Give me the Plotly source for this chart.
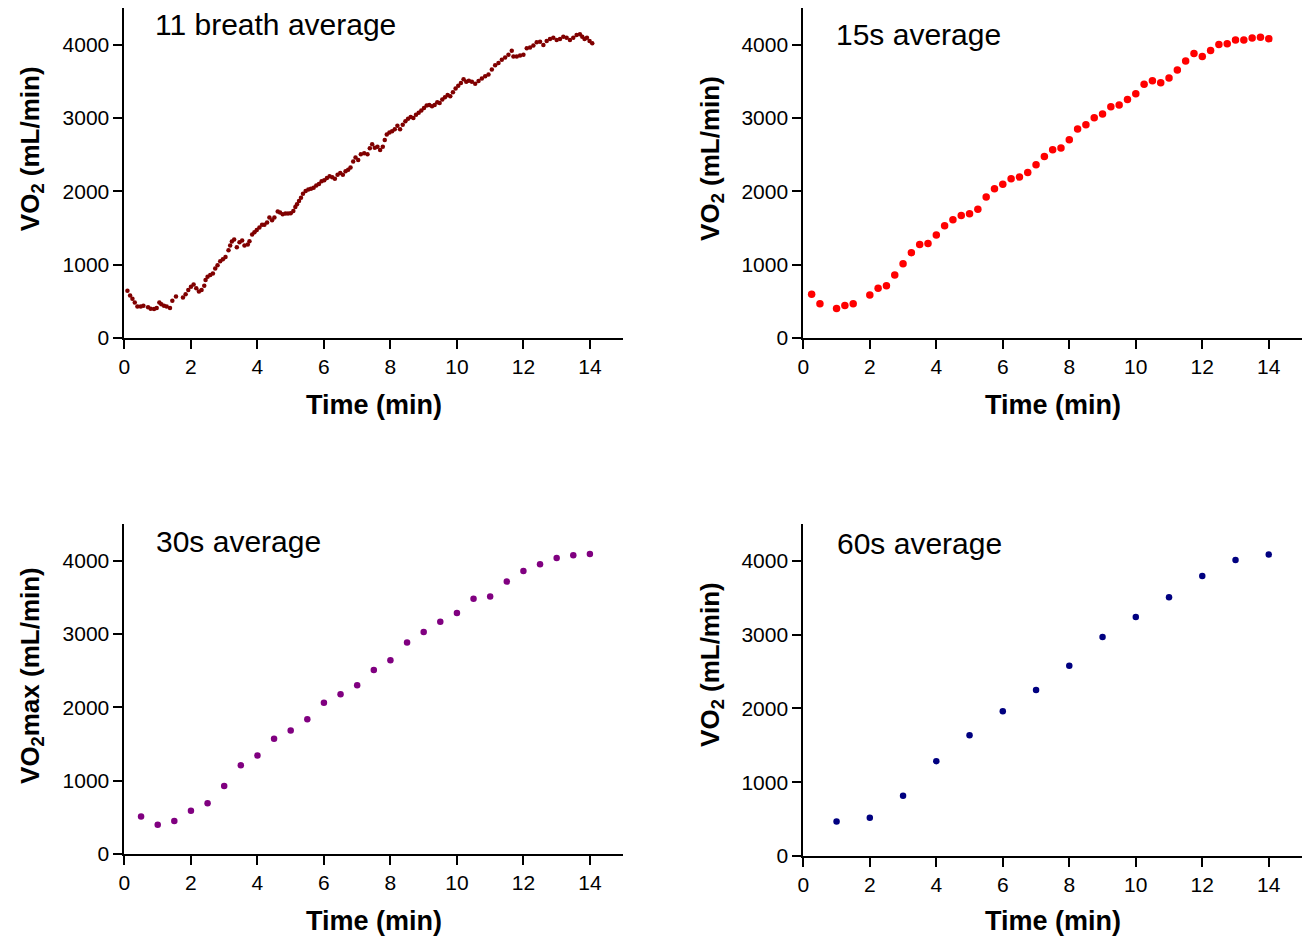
import plotly.graph_objects as go

# ---------------- data ----------------
breath_t = [0.09,0.17,0.24,0.31,0.39,0.49,0.57,0.71,0.79,0.89,
            0.97,1.05,1.11,1.19,1.27,1.37,1.44,1.55,1.76,1.84,
            1.92,2.00,2.08,2.16,2.24,2.32,2.40,2.44,2.50,2.58,
            2.66,2.73,2.80,2.88,2.96,3.04,3.13,3.18,3.23,3.30,
            3.38,3.46,3.54,3.61,3.71,3.76,3.84,3.91,3.98,4.06,
            4.14,4.21,4.29,4.36,4.44,4.51,4.61,4.68,4.76,4.84,
            4.92,5.00,5.08,5.14,5.19,5.25,5.31,5.37,5.45,5.53,
            5.61,5.69,5.77,5.85,5.93,6.01,6.09,6.17,6.25,6.33,
            6.41,6.49,6.57,6.65,6.73,6.80,6.88,6.95,7.03,7.11,
            7.21,7.31,7.38,7.45,7.53,7.61,7.69,7.77,7.83,7.89,
            7.97,8.05,8.13,8.21,8.29,8.37,8.45,8.53,8.61,8.69,
            8.77,8.85,8.93,9.01,9.09,9.17,9.25,9.33,9.41,9.48,
            9.56,9.64,9.72,9.80,9.88,9.96,10.04,10.12,10.20,10.28,
            10.36,10.45,10.55,10.65,10.75,10.85,10.95,11.05,11.15,11.25,
            11.35,11.45,11.55,11.65,11.70,11.80,11.90,12.00,12.10,12.20,
            12.30,12.40,12.50,12.60,12.70,12.80,12.90,13.00,13.10,13.20,
            13.30,13.40,13.50,13.60,13.70,13.77,13.84,13.91,13.99,14.07]
breath_v = [646,579,535,485,431,431,440,418,400,395,
            408,485,462,440,431,408,508,566,552,597,
            656,700,731,677,633,656,714,790,835,858,
            880,947,992,1046,1073,1104,1195,1262,1316,1343,
            1239,1306,1329,1262,1275,1320,1410,1441,1472,1508,
            1544,1544,1576,1643,1607,1643,1724,1710,1688,1697,
            1697,1701,1733,1787,1822,1868,1912,1966,2003,2024,
            2034,2047,2078,2101,2137,2151,2182,2205,2191,2172,
            2226,2249,2226,2272,2294,2326,2407,2461,2428,2505,
            2518,2505,2586,2640,2595,2609,2563,2609,2698,2774,
            2801,2819,2846,2892,2846,2909,2954,2990,3013,2999,
            3044,3071,3102,3134,3169,3178,3161,3178,3214,3205,
            3250,3281,3313,3295,3349,3403,3438,3475,3529,3492,
            3506,3492,3466,3502,3538,3569,3592,3659,3717,3748,
            3794,3825,3861,3915,3838,3838,3852,3861,3950,3960,
            3987,4031,4040,3996,4050,4077,4094,4063,4077,4108,
            4094,4063,4094,4131,4140,4108,4077,4094,4050,4018]

s15_t = [0.25,0.5,1.0,1.25,1.5,2.0,2.25,2.5,2.75,3.0,
         3.25,3.5,3.75,4.0,4.25,4.5,4.75,5.0,5.25,5.5,
         5.75,6.0,6.25,6.5,6.75,7.0,7.25,7.5,7.75,8.0,
         8.25,8.5,8.75,9.0,9.25,9.5,9.75,10.0,10.25,10.5,
         10.75,11.0,11.25,11.5,11.75,12.0,12.25,12.5,12.75,13.0,
         13.25,13.5,13.75,14.0]
s15_v = [597,467,404,444,467,588,678,714,858,1014,
         1163,1275,1289,1405,1531,1612,1670,1693,1755,1922,
         2034,2097,2172,2195,2258,2361,2474,2568,2590,2703,
         2851,2909,3003,3053,3152,3178,3250,3331,3461,3506,
         3479,3546,3654,3775,3879,3838,3919,4000,4013,4063,
         4063,4090,4099,4081]

s30_t = [0.5,1.0,1.5,2.0,2.5,3.0,3.5,4.0,4.5,5.0,5.5,6.0,6.5,7.0,
         7.5,8.0,8.5,9.0,9.5,10.0,10.5,11.0,11.5,12.0,12.5,13.0,13.5,14.0]
s30_v = [512,400,449,588,691,925,1208,1343,1571,1683,1836,2061,2177,2299,
         2509,2640,2882,3026,3165,3286,3479,3511,3713,3856,3950,4036,4071,4090]

s60_t = [1,2,3,4,5,6,7,8,9,10,11,12,13,14]
s60_v = [468,518,816,1284,1636,1962,2247,2578,2966,3237,3505,3795,4009,4084]

assert len(breath_t) == len(breath_v)
assert len(s15_t) == len(s15_v)
assert len(s30_t) == len(s30_v)

panel_labels = ["11 breath average", "15s average", "30s average", "60s average"]
x_title = "Time (min)"
y_titles = ["VO<sub>2</sub> (mL/min)", "VO<sub>2</sub> (mL/min)",
            "VO<sub>2</sub>max (mL/min)", "VO<sub>2</sub> (mL/min)"]

FONT = "Liberation Sans, Arial, sans-serif"
W, H = 1306, 948

fig = go.Figure()
series = [(breath_t, breath_v, "#800000", 4.5),
          (s15_t, s15_v, "#ff0000", 7.5),
          (s30_t, s30_v, "#800080", 6.5),
          (s60_t, s60_v, "#000080", 6.5)]
for i, (t, v, c, s) in enumerate(series):
    suf = "" if i == 0 else str(i + 1)
    fig.add_trace(go.Scatter(x=t, y=v, mode="markers", xaxis="x" + suf, yaxis="y" + suf,
                             marker=dict(color=c, size=s, line=dict(width=0)),
                             showlegend=False, hoverinfo="x+y"))

# pixel geometry of the four panels: (left, right, bottom, top)
panels = [(119, 620, 342, 8), (801, 1302, 342, 8),
          (119, 620, 864, 530), (801, 1302, 866, 530)]

axis_common = dict(showline=True, linecolor="black", linewidth=2,
                   ticks="outside", ticklen=9, tickwidth=2, tickcolor="black",
                   showgrid=False, zeroline=False,
                   tickfont=dict(family=FONT, size=21, color="black"))
layout = {}
for i, (l, r, b, t) in enumerate(panels):
    suf = "" if i == 0 else str(i + 1)
    layout["xaxis" + suf] = dict(domain=[l / W, r / W], range=[0, 15], tick0=0, dtick=2,
                                 anchor="y" + suf, **axis_common)
    layout["yaxis" + suf] = dict(domain=[1 - b / H, 1 - t / H], range=[0, 4500], tick0=0, dtick=1000,
                                 anchor="x" + suf, **axis_common)

annotations = []
label_pos = [(148, 25), (832, 35), (149, 548), (833, 550)]
for (px, py), txt in zip(label_pos, panel_labels):
    annotations.append(dict(x=px / W, y=1 - py / H, xref="paper", yref="paper",
                            xanchor="left", yanchor="middle", showarrow=False, text=txt,
                            font=dict(family=FONT, size=30, color="black")))
xt_pos = [(370, 410), (1052, 410), (370, 932), (1052, 932)]
for (px, py) in xt_pos:
    annotations.append(dict(x=px / W, y=1 - py / H, xref="paper", yref="paper",
                            xanchor="center", yanchor="middle", showarrow=False,
                            text="<b>" + x_title + "</b>",
                            font=dict(family=FONT, size=27, color="black")))
yt_pos = [(25, 150), (708, 160), (25, 683), (708, 672)]
for (px, py), txt in zip(yt_pos, y_titles):
    annotations.append(dict(x=px / W, y=1 - py / H, xref="paper", yref="paper",
                            xanchor="center", yanchor="middle", showarrow=False, textangle=-90,
                            text="<b>" + txt + "</b>",
                            font=dict(family=FONT, size=26, color="black")))

fig.update_layout(width=W, height=H, margin=dict(l=0, r=0, t=0, b=0),
                  paper_bgcolor="white", plot_bgcolor="white",
                  font=dict(family=FONT, color="black"),
                  showlegend=False, annotations=annotations, **layout)

fig.write_html("out.html")
